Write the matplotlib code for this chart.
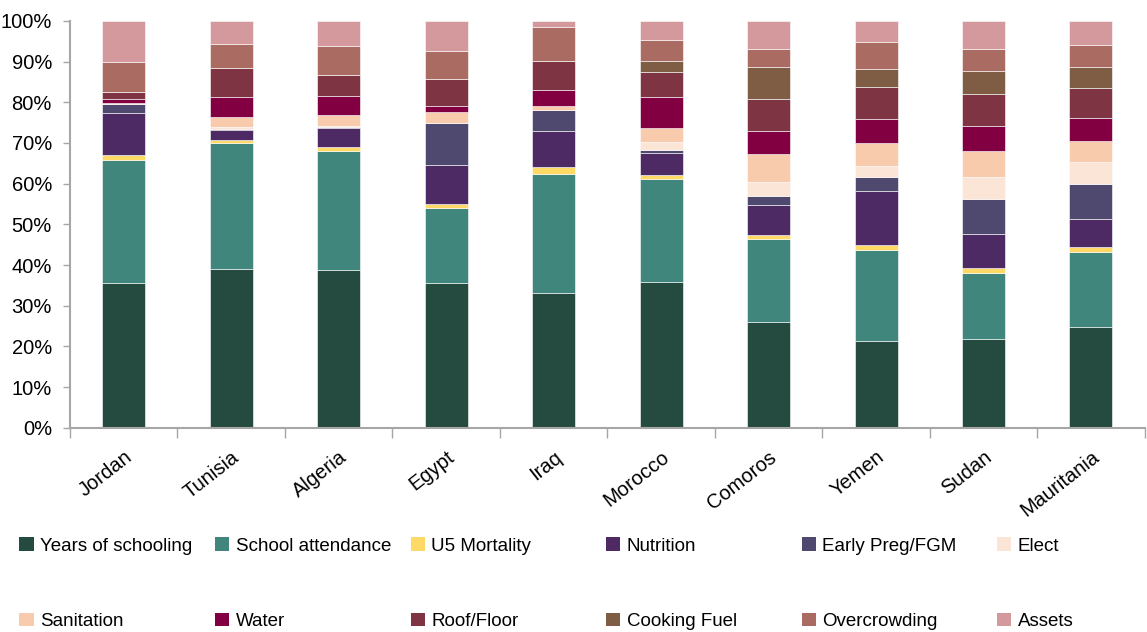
import numpy as np
import matplotlib
matplotlib.use("Agg")
import matplotlib.pyplot as plt
from matplotlib.patches import Patch
from matplotlib import font_manager

countries = ["Jordan", "Tunisia", "Algeria", "Egypt", "Iraq",
             "Morocco", "Comoros", "Yemen", "Sudan", "Mauritania"]

# contribution (%) of each indicator, bottom to top
years_schooling   = [35.7, 39.0, 38.7, 35.7, 33.2, 35.9, 26.0, 21.4, 21.9, 24.8]
school_attendance = [30.0, 31.1, 29.4, 18.3, 29.2, 25.3, 20.5, 22.3, 16.1, 18.4]
u5_mortality      = [1.4, 0.7, 0.9, 1.0, 1.6, 0.9, 1.0, 1.2, 1.4, 1.2]
nutrition         = [10.2, 2.4, 4.6, 9.5, 9.0, 5.5, 7.2, 13.3, 8.3, 6.8]
early_preg_fgm    = [2.2, 0.3, 0.3, 10.5, 5.0, 0.6, 2.3, 3.5, 8.6, 8.8]
elect             = [0.1, 0.3, 0.3, 0.0, 0.0, 2.1, 3.4, 2.6, 5.4, 5.2]
sanitation        = [0.2, 2.5, 2.7, 2.6, 1.1, 3.4, 6.8, 5.6, 6.4, 5.4]
water             = [0.9, 4.9, 4.7, 1.6, 3.8, 7.5, 5.8, 6.0, 6.1, 5.6]
roof_floor        = [1.7, 7.3, 5.1, 6.6, 7.3, 6.2, 7.8, 7.8, 7.8, 7.4]
cooking_fuel      = [0.0, 0.0, 0.0, 0.0, 0.0, 2.8, 7.8, 4.5, 5.8, 5.0]
overcrowding      = [7.5, 5.9, 7.0, 6.7, 8.4, 5.1, 4.5, 6.5, 5.4, 5.5]
assets            = [10.0, 5.6, 6.3, 7.5, 1.4, 4.7, 6.9, 5.3, 6.8, 5.9]

series_names = ["Years of schooling", "School attendance", "U5 Mortality",
                "Nutrition", "Early Preg/FGM", "Elect", "Sanitation", "Water",
                "Roof/Floor", "Cooking Fuel", "Overcrowding", "Assets"]
series_values = [years_schooling, school_attendance, u5_mortality, nutrition,
                 early_preg_fgm, elect, sanitation, water, roof_floor,
                 cooking_fuel, overcrowding, assets]
colors = ["#254B40", "#41867D", "#FFD966", "#4D2A64", "#50496F", "#FBE5D6",
          "#F8CBAD", "#820041", "#7F3443", "#7F5D44", "#AA6C62", "#D3999C"]

# condensed font if available
names = {f.name for f in font_manager.fontManager.ttflist}
if "Liberation Sans Narrow" in names:
    plt.rcParams["font.family"] = ["Liberation Sans Narrow", "DejaVu Sans"]
else:
    plt.rcParams["font.family"] = ["Liberation Sans", "DejaVu Sans"]

axis_grey = "#A6A6A6"

fig = plt.figure(figsize=(11.47, 6.32), dpi=100)
ax = fig.add_axes([0.061, 0.323, 0.937, 0.644])

x = np.arange(len(countries))
bottom = np.zeros(len(countries))
for name, vals, col in zip(series_names, series_values, colors):
    vals = np.array(vals)
    ax.bar(x, vals, width=0.4, bottom=bottom, color=col, label=name,
           edgecolor="white", linewidth=0.4)
    bottom += vals

ax.set_xlim(-0.5, len(countries) - 0.5)
ax.set_ylim(0, 100)
ax.set_yticks(np.arange(0, 101, 10))
ax.set_yticklabels([f"{v}%" for v in range(0, 101, 10)], fontsize=14.5)

# category labels centred on bars, tick marks between categories
ax.set_xticks(x)
ax.set_xticklabels(countries, rotation=38, ha="right", rotation_mode="anchor",
                   fontsize=14.5)
ax.tick_params(axis="x", length=0, pad=14)
ax.set_xticks(np.arange(-0.5, len(countries), 1), minor=True)
ax.tick_params(axis="x", which="minor", length=7, color=axis_grey, width=1)
ax.tick_params(axis="y", length=5, color=axis_grey, width=1, pad=8)

for side in ["top", "right"]:
    ax.spines[side].set_visible(False)
for side in ["left", "bottom"]:
    ax.spines[side].set_color(axis_grey)
    ax.spines[side].set_linewidth(1.5)

# legend laid out as six equal-width columns of two rows
ncol = 6
handles = [Patch(facecolor=c, edgecolor="none") for c in colors]
col_w = 0.1705
for i in range(ncol):
    leg = fig.legend([handles[i], handles[i + ncol]],
                     [series_names[i], series_names[i + ncol]],
                     loc="lower left",
                     bbox_to_anchor=(0.017 + i * col_w, 0.003),
                     frameon=False, fontsize=13.5, handlelength=0.75,
                     handleheight=0.75, handletextpad=0.35,
                     labelspacing=3.1, borderaxespad=0, borderpad=0)

fig.savefig("out.png", dpi=100)
